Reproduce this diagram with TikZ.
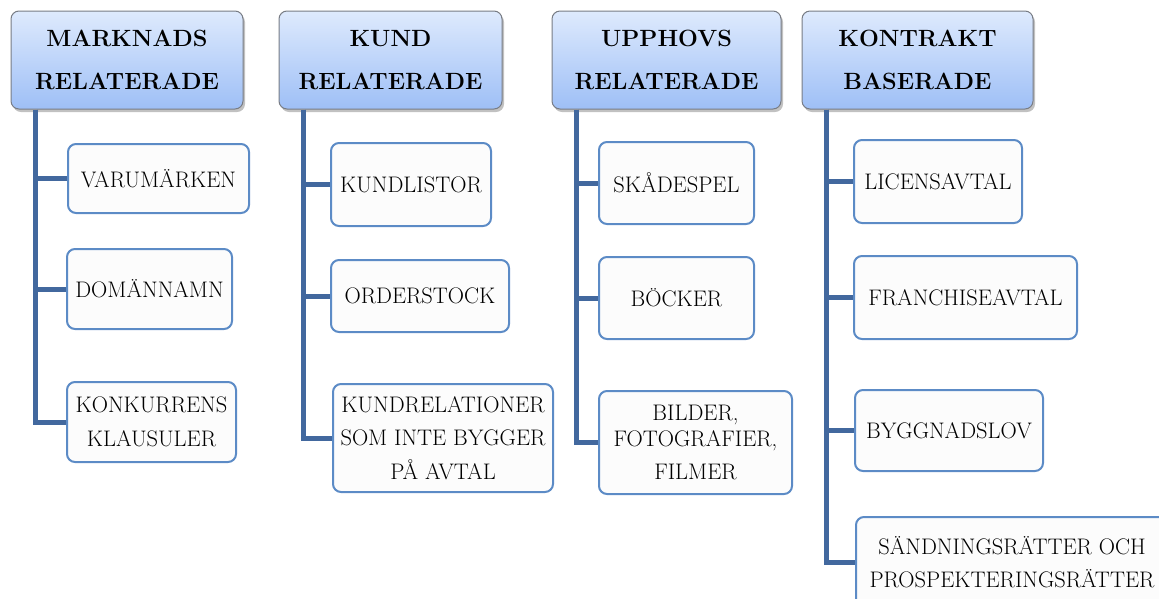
\documentclass[tikz,border=0pt]{standalone}
\usetikzlibrary{shadows,calc}
\definecolor{conncol}{RGB}{66,104,158}
\definecolor{childborder}{RGB}{92,139,198}
\definecolor{headtop}{RGB}{222,234,253}
\definecolor{headbot}{RGB}{158,191,246}
\definecolor{headborder}{RGB}{120,124,132}
\definecolor{childfill}{RGB}{252,252,252}
\tikzset{
  headbox/.style={draw=headborder, line width=1pt, rounded corners=8pt,
    top color=headtop, bottom color=headbot, inner sep=0pt, align=center,
    font=\fontsize{23.5}{43}\selectfont\bfseries,
    drop shadow={shadow xshift=2pt, shadow yshift=-3pt, opacity=0.35, fill=black!70}},
  childbox/.style={draw=childborder, line width=2pt, rounded corners=8pt,
    fill=childfill, inner sep=0pt, align=center,
    font=\fontsize{22.5}{33.5}\selectfont},
  conn/.style={draw=conncol, line width=5pt},
}
\begin{document}
\begin{tikzpicture}[x=1pt,y=-1pt]
\useasboundingbox (0,0) rectangle (1159,598);
\clip (0,0) rectangle (1159,598);
% headers
\node[headbox, minimum width=232pt, minimum height=98pt] (h1) at (127,60) {MARKNADS\\RELATERADE};
\node[headbox, minimum width=223pt, minimum height=98pt] (h2) at (390.5,60) {KUND\\RELATERADE};
\node[headbox, minimum width=229pt, minimum height=98pt] (h3) at (666.5,60) {UPPHOVS\\RELATERADE};
\node[headbox, minimum width=231pt, minimum height=98pt] (h4) at (917.5,60) {KONTRAKT\\BASERADE};
% children column 1
\node[childbox, minimum width=181pt, minimum height=69pt] (c1a) at (158.5,178.5) {VARUMÄRKEN};
\node[childbox, minimum width=165pt, minimum height=80pt] (c1b) at (149.5,289) {DOMÄNNAMN};
\node[childbox, minimum width=169pt, minimum height=80pt] (c1c) at (151.5,422) {KONKURRENS\\KLAUSULER};
% column 2
\node[childbox, minimum width=160pt, minimum height=83pt] (c2a) at (411,184.5) {KUNDLISTOR};
\node[childbox, minimum width=178pt, minimum height=72pt] (c2b) at (420,296) {ORDERSTOCK};
\node[childbox, minimum width=220pt, minimum height=108pt] (c2c) at (443,438) {KUNDRELATIONER\\SOM INTE BYGGER\\PÅ AVTAL};
% column 3
\node[childbox, minimum width=155pt, minimum height=82pt] (c3a) at (676.5,183) {SKÅDESPEL};
\node[childbox, minimum width=155pt, minimum height=82pt] (c3b) at (676.5,298) {BÖCKER};
\node[childbox, minimum width=193pt, minimum height=103pt] (c3c) at (695.5,442.5) {BILDER,\\[-8pt]FOTOGRAFIER,\\FILMER};
% column 4
\node[childbox, minimum width=168pt, minimum height=83pt] (c4a) at (938,181.5) {LICENSAVTAL};
\node[childbox, minimum width=223pt, minimum height=83pt] (c4b) at (965.5,297.5) {FRANCHISEAVTAL};
\node[childbox, minimum width=188pt, minimum height=81pt] (c4c) at (949,430.5) {BYGGNADSLOV};
\node[childbox, minimum width=312pt, minimum height=90pt] (c4d) at (1012,562) {SÄNDNINGSRÄTTER OCH\\PROSPEKTERINGSRÄTTER};
% connectors
\foreach \h/\kids in {h1/{c1a,c1b,c1c}, h2/{c2a,c2b,c2c}, h3/{c3a,c3b,c3c}, h4/{c4a,c4b,c4c,c4d}}{
  \foreach \k in \kids {
    \draw[conn] ([xshift=25pt]\h.south west) |- (\k.west);
  }
}
\end{tikzpicture}
\end{document}
